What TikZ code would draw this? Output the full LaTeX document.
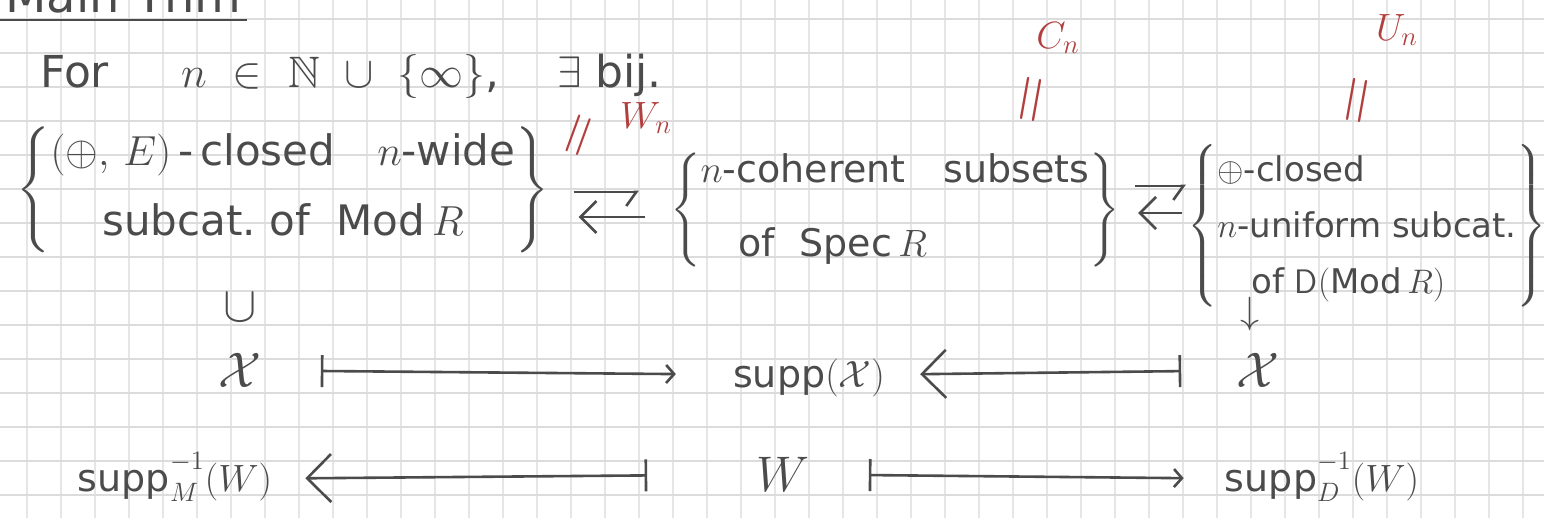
\RequirePackage{fix-cm}
\documentclass[tikz,border=0pt]{standalone}
\usepackage{amsmath,amssymb}
\usepackage{fontspec}
\setmainfont{DejaVu Sans}
\usepackage{xcolor}
\usetikzlibrary{positioning,arrows.meta}

\definecolor{ink}{HTML}{4B4B4B}
\definecolor{redink}{HTML}{B23E3E}
\definecolor{gridh}{HTML}{DCDCDC}
\definecolor{gridv}{HTML}{E6E6E6}

\begin{document}
\begin{tikzpicture}[
  x=0.5pt, y=-0.5pt,
  font=\fontsize{19}{25}\selectfont,
  line width=1.3pt,
  every node/.style={text=ink},
  txt/.style={inner sep=2pt, anchor=base},
  big/.style={font=\fontsize{25}{30}\selectfont},
  setbox/.style={inner sep=0pt},
  lbl/.style={text=redink, inner sep=0pt},
  eqsign/.style={text=redink, font=\fontsize{#1}{#1}\selectfont, inner sep=0pt},
  eqsign/.default=31,
  elem/.style={inner sep=0pt},
  mapr/.style={draw=ink, {Bar[width=16pt]}-{Straight Barb[length=4pt,width=9pt]}},
  mapl/.style={draw=ink, {Straight Barb[length=12pt,width=24pt]}-{Bar[width=16pt]}},
  toarr/.style={draw=ink, -{Straight Barb[harpoon,swap,length=5pt,width=14pt]}},
  backarr/.style={draw=ink, {Straight Barb[length=8pt,width=16pt]}-},
]

%% paper
\useasboundingbox (0,0) rectangle (1544,518);
\clip (0,0) rectangle (1544,518);
\fill[white] (0,0) rectangle (1544,518);
\foreach \gx in {0,...,45}
  \draw[gridv, line width=0.7pt] (27+34*\gx,0) -- (27+34*\gx,518);
\foreach \gy in {0,...,14}
  \draw[gridh, line width=0.9pt] (0,19+34*\gy) -- (1544,19+34*\gy);

%% title and statement
\node[txt, anchor=base west, font=\fontsize{24}{24}\selectfont] (mthm) at (0,13) {Main Thm};
\draw[ink] ([yshift=-3.5pt]mthm.base west) -- ([yshift=-3.5pt]mthm.base east);

\node[txt, anchor=base west, font=\fontsize{22}{26}\selectfont] (intro) at (35,88)
  {For\quad\ \ $n\ \in\ \mathbb{N}\ \cup\ \{\infty\}$,\quad\ $\exists$\ bij.};

%% the three classes
\node[setbox, font=\fontsize{21}{27}\selectfont] (lset) at (283,190)
  {$\left\{\begin{tabular}{@{}c@{}}$(\oplus,\,E)$\,-\,closed\quad $n$-wide\\[8pt]
   subcat.\ of\ \ $\operatorname{Mod}R$\end{tabular}\right\}$};

\node[setbox] (mset) at (895,210)
  {$\left\{\begin{tabular}{@{}l@{}}$n$-coherent\quad subsets\\[12pt]
   \quad of\ \ $\operatorname{Spec}R$\end{tabular}\right\}$};

\node[setbox, font=\fontsize{17}{28}\selectfont] (rset) at (1367,226)
  {$\left\{\begin{tabular}{@{}l@{}}$\oplus$-closed\\
   $n$-uniform subcat.\\
   \quad of $\mathsf{D}(\operatorname{Mod}R)$\end{tabular}\right\}$};

%% names in red
\node[lbl] (wn) at (646,118) {$W_n$};
\node[eqsign, rotate=70] (wneq) at (583,137) {$=$};
\node[lbl] (cn) at (1058,38) {$C_n$};
\node[eqsign=34, rotate=80] (cneq) at (1036,100) {$=$};
\node[lbl] (un) at (1397,30) {$U_n$};
\node[eqsign=34, rotate=80] (uneq) at (1362,101) {$=$};

%% bijections
\draw[toarr, shorten <=11.5pt, shorten >=15pt] ([yshift=-1pt]lset.east) -- ([yshift=9pt]mset.west);
\draw[backarr, shorten <=14pt, shorten >=12pt] ([yshift=-13.5pt]lset.east) -- ([yshift=-3.5pt]mset.west);
\draw[toarr, shorten <=7pt, shorten >=0pt] ([yshift=12pt]mset.east) -- ([yshift=20pt]rset.west);
\draw[backarr, shorten <=8.5pt, shorten >=2pt] ([yshift=-1.5pt]mset.east) -- ([yshift=6.5pt]rset.west);

%% elements
\node[elem, font=\fontsize{25}{25}\selectfont] (inl) at (240,308) {$\cup$};
\node[elem] (inr) at (1250,314) {$\downarrow$};

\node[txt, big] (xl) at (240,388) {$\mathcal{X}$};
\node[txt] (suppx) at (809,388) {$\operatorname{supp}(\mathcal{X})$};
\node[txt, big] (xr) at (1258,388) {$\mathcal{X}$};

\node[txt] (suppm) at (175,492) {$\operatorname{supp}^{-1}_{M}(W)$};
\node[txt, big] (wmid) at (783,492) {$W$};
\node[txt] (suppd) at (1322,492) {$\operatorname{supp}^{-1}_{D}(W)$};

\draw[mapr, shorten <=27pt, shorten >=26pt] ([yshift=6pt]xl.mid east) -- ([yshift=4pt]suppx.mid west);
\draw[mapl, shorten <=15pt, shorten >=25pt] ([yshift=4pt]suppx.mid east) -- ([yshift=6pt]xr.mid west);
\draw[mapl, shorten <=14pt, shorten >=52pt] ([yshift=4pt]suppm.mid east) -- ([yshift=6pt]wmid.mid west);
\draw[mapr, shorten <=27pt, shorten >=18pt] ([yshift=6pt]wmid.mid east) -- ([yshift=4pt]suppd.mid west);

\end{tikzpicture}
\end{document}
